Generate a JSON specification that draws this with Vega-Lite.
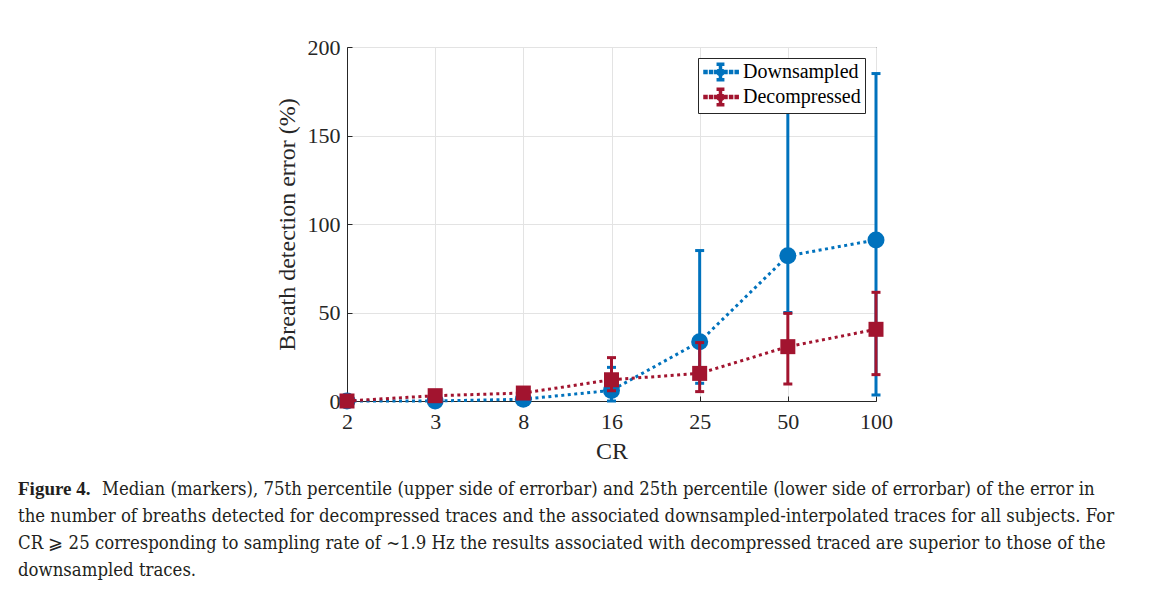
{
  "$schema": "https://vega.github.io/schema/vega-lite/v6.json",
  "autosize": "none",
  "width": 529,
  "height": 354,
  "padding": {"left": 347, "top": 47, "right": 276, "bottom": 211},
  "background": "white",
  "config": {
    "view": {"stroke": "#262626", "strokeWidth": 1},
    "font": "Liberation Serif",
    "axis": {
      "labelFont": "Liberation Serif",
      "titleFont": "Liberation Serif",
      "labelFontSize": 22,
      "titleFontSize": 24,
      "labelColor": "#262626",
      "titleColor": "#262626",
      "titleFontWeight": "normal",
      "domainColor": "#262626",
      "tickColor": "#262626",
      "gridColor": "#e3e3e3",
      "gridWidth": 1
    },
    "legend": {
      "labelFont": "Liberation Serif",
      "labelFontSize": 20,
      "labelColor": "#000000"
    }
  },
  "data": {
    "values": [
      {"CR": "2", "series": "Downsampled", "median": 0, "lower": 0, "upper": 0},
      {"CR": "3", "series": "Downsampled", "median": 0, "lower": 0, "upper": 0.5},
      {"CR": "8", "series": "Downsampled", "median": 1, "lower": 0, "upper": 2},
      {"CR": "16", "series": "Downsampled", "median": 6, "lower": 0, "upper": 19},
      {"CR": "25", "series": "Downsampled", "median": 33.5, "lower": 10, "upper": 85},
      {"CR": "50", "series": "Downsampled", "median": 82, "lower": 50, "upper": 175},
      {"CR": "100", "series": "Downsampled", "median": 91, "lower": 3.4, "upper": 185},
      {"CR": "2", "series": "Decompressed", "median": 0, "lower": 0, "upper": 0},
      {"CR": "3", "series": "Decompressed", "median": 3, "lower": 2, "upper": 4},
      {"CR": "8", "series": "Decompressed", "median": 4.5, "lower": 3, "upper": 6},
      {"CR": "16", "series": "Decompressed", "median": 12, "lower": 5.8, "upper": 24.5},
      {"CR": "25", "series": "Decompressed", "median": 15.6, "lower": 5.3, "upper": 33},
      {"CR": "50", "series": "Decompressed", "median": 30.7, "lower": 9.6, "upper": 49.5},
      {"CR": "100", "series": "Decompressed", "median": 40.5, "lower": 14.9, "upper": 61.4}
    ]
  },
  "title": {
    "text": "Figure 4.",
    "subtitle": [
      "\u200b\u00a0\u00a0\u00a0\u00a0\u00a0\u00a0\u00a0\u00a0\u00a0\u00a0\u00a0\u00a0\u00a0\u00a0\u00a0\u00a0Median (markers), 75th percentile (upper side of errorbar) and 25th percentile (lower side of errorbar) of the error in",
      "the number of breaths detected for decompressed traces and the associated downsampled-interpolated traces for all subjects. For",
      "CR ⩾ 25 corresponding to sampling rate of ~1.9 Hz the results associated with decompressed traced are superior to those of the",
      "downsampled traces."
    ],
    "orient": "bottom",
    "anchor": "start",
    "frame": "group",
    "dx": -329,
    "offset": 17,
    "font": "Liberation Serif",
    "fontSize": 19,
    "fontWeight": "bold",
    "color": "#231f20",
    "subtitleFont": "DejaVu Serif Condensed",
    "subtitleFontSize": 18.4,
    "subtitleColor": "#231f20",
    "subtitleLineHeight": 27,
    "subtitlePadding": -19
  },
  "encoding": {
    "x": {
      "field": "CR",
      "type": "ordinal",
      "sort": ["2", "3", "8", "16", "25", "50", "100"],
      "scale": {"type": "point", "padding": 0},
      "axis": {"title": "CR", "labelAngle": 0, "grid": true, "tickSize": -5, "labelPadding": 15, "titlePadding": 7}
    }
  },
  "layer": [
    {
      "transform": [{"filter": "datum.series == 'Downsampled'"}],
      "layer": [
        {
          "mark": {"type": "rule", "strokeWidth": 3},
          "encoding": {
            "y": {"field": "lower", "type": "quantitative", "scale": {"domain": [0, 200]}, "axis": {"title": "Breath detection error (%)", "values": [0, 50, 100, 150, 200], "grid": true, "tickSize": -5, "labelPadding": 12, "titlePadding": 8}},
            "y2": {"field": "upper"},
            "color": {"field": "series", "type": "nominal", "scale": {"domain": ["Downsampled", "Decompressed"], "range": ["#0072BD", "#A2142F"]}}
          }
        },
        {
          "mark": {"type": "tick", "size": 9, "thickness": 3, "opacity": 1},
          "encoding": {"y": {"field": "upper", "type": "quantitative"}, "color": {"field": "series", "type": "nominal"}}
        },
        {
          "mark": {"type": "tick", "size": 9, "thickness": 3, "opacity": 1},
          "encoding": {"y": {"field": "lower", "type": "quantitative"}, "color": {"field": "series", "type": "nominal"}}
        },
        {
          "mark": {"type": "line", "strokeWidth": 3, "strokeDash": [3, 3.5]},
          "encoding": {"y": {"field": "median", "type": "quantitative"}, "color": {"field": "series", "type": "nominal"}}
        },
        {
          "mark": {"type": "point", "shape": "circle", "filled": true, "opacity": 1, "size": 289},
          "encoding": {"y": {"field": "median", "type": "quantitative"}, "color": {"field": "series", "type": "nominal"}}
        }
      ]
    },
    {
      "transform": [{"filter": "datum.series == 'Decompressed'"}],
      "layer": [
        {
          "mark": {"type": "rule", "strokeWidth": 3},
          "encoding": {"y": {"field": "lower", "type": "quantitative"}, "y2": {"field": "upper"}, "color": {"field": "series", "type": "nominal"}}
        },
        {
          "mark": {"type": "tick", "size": 9, "thickness": 3, "opacity": 1},
          "encoding": {"y": {"field": "upper", "type": "quantitative"}, "color": {"field": "series", "type": "nominal"}}
        },
        {
          "mark": {"type": "tick", "size": 9, "thickness": 3, "opacity": 1},
          "encoding": {"y": {"field": "lower", "type": "quantitative"}, "color": {"field": "series", "type": "nominal"}}
        },
        {
          "mark": {"type": "line", "strokeWidth": 3, "strokeDash": [3, 3.5]},
          "encoding": {"y": {"field": "median", "type": "quantitative"}, "color": {"field": "series", "type": "nominal"}}
        },
        {
          "mark": {"type": "point", "shape": "square", "filled": true, "opacity": 1, "size": 225},
          "encoding": {
            "y": {"field": "median", "type": "quantitative"},
            "color": {
              "field": "series",
              "type": "nominal",
              "legend": {
                "title": null,
                "orient": "top-right",
                "offset": 11,
                "strokeColor": "#262626",
                "fillColor": "white",
                "padding": 4,
                "rowPadding": 1,
                "symbolSize": 256,
                "labelOffset": 21,
                "symbolType": "M-1,-0.19h0.375v0.375h-0.375zM-0.3,-0.19h0.375v0.375h-0.375zM0.35,-0.19h0.3v0.375h-0.3zM1.5,-0.19h0.375v0.375h-0.375zM2.2,-0.19h0.375v0.375h-0.375zM2.9,-0.19h0.375v0.375h-0.375zM0.935,-1h0.25v2h-0.25zM0.66,-1.1h0.8v0.25h-0.8zM0.66,0.85h0.8v0.25h-0.8zM1.51,0A0.45,0.45 0 1,1 0.61,0A0.45,0.45 0 1,1 1.51,0z",
                "encode": {"symbols": {"update": {"fill": {"scale": "color", "field": "value"}, "strokeWidth": {"value": 0}, "opacity": {"value": 1}}}}
              }
            }
          }
        }
      ]
    }
  ]
}
